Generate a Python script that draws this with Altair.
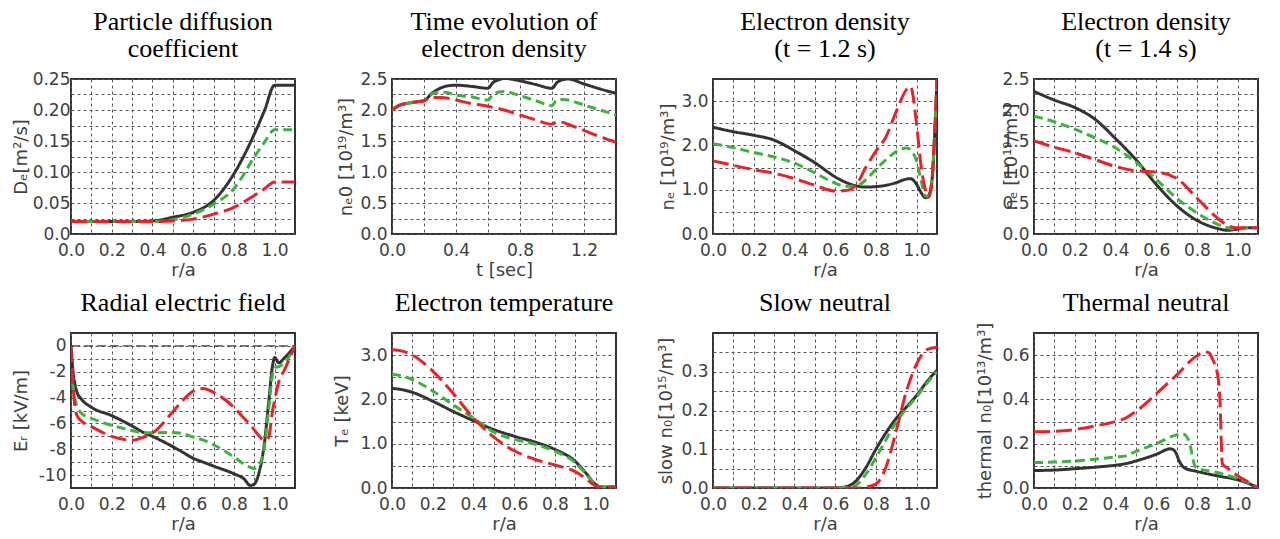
import altair as alt
import pandas as pd

# ---------------- data ----------------
# Panel 1: particle diffusion coefficient
p1_x = [0, 0.1, 0.2, 0.3, 0.4, 0.5, 0.6, 0.7, 0.8, 0.9, 0.95, 1.0, 1.05, 1.1]
p1_black = [0.02, 0.02, 0.02, 0.02, 0.021, 0.027, 0.035, 0.054, 0.097, 0.161, 0.199, 0.24, 0.24, 0.24]
p1_green = [0.02, 0.02, 0.02, 0.02, 0.02, 0.023, 0.032, 0.048, 0.073, 0.124, 0.148, 0.168, 0.168, 0.168]
p1_red = [0.02, 0.02, 0.02, 0.02, 0.02, 0.021, 0.024, 0.032, 0.043, 0.062, 0.073, 0.084, 0.084, 0.084]

# Panel 2: time evolution of electron density
p2_t = [0, 0.05, 0.1, 0.15, 0.2, 0.25, 0.3, 0.35, 0.4, 0.5, 0.6, 0.63, 0.67, 0.7, 0.8, 0.9,
        1.0, 1.03, 1.07, 1.1, 1.2, 1.3, 1.4]
p2_black = [2.0, 2.08, 2.11, 2.13, 2.15, 2.27, 2.35, 2.39, 2.4, 2.38, 2.35, 2.44, 2.49, 2.51, 2.47, 2.41,
            2.35, 2.44, 2.49, 2.5, 2.42, 2.34, 2.27]
p2_green = [2.0, 2.08, 2.11, 2.13, 2.15, 2.26, 2.29, 2.28, 2.24, 2.21, 2.16, 2.25, 2.29, 2.3, 2.23, 2.15,
            2.07, 2.16, 2.17, 2.16, 2.08, 2.0, 1.92]
p2_red = [2.0, 2.08, 2.11, 2.13, 2.15, 2.2, 2.2, 2.19, 2.16, 2.1, 2.06, 2.04, 2.02, 2.0, 1.92, 1.84,
          1.77, 1.81, 1.8, 1.77, 1.67, 1.57, 1.48]

# Panel 3: electron density t = 1.2 s
p3_x = [0, 0.1, 0.2, 0.3, 0.4, 0.5, 0.6, 0.65, 0.7, 0.75, 0.8, 0.85, 0.9, 0.95, 0.97, 1.0,
        1.02, 1.045, 1.06, 1.075, 1.09, 1.1]
p3_black = [2.41, 2.31, 2.23, 2.12, 1.88, 1.61, 1.29, 1.17, 1.09, 1.06, 1.07, 1.1, 1.16, 1.24, 1.25, 1.12,
            0.95, 0.82, 0.88, 1.2, 2.4, 3.5]
p3_green = [2.04, 1.95, 1.84, 1.74, 1.6, 1.38, 1.15, 1.08, 1.08, 1.22, 1.46, 1.68, 1.86, 1.94, 1.9, 1.64,
            1.25, 0.85, 0.85, 1.2, 2.4, 3.5]
p3_red = [1.65, 1.55, 1.45, 1.37, 1.25, 1.1, 0.97, 0.98, 1.09, 1.5, 1.87, 2.2, 2.77, 3.26, 3.33, 2.47,
          1.6, 0.97, 0.83, 1.2, 2.4, 3.5]

# Panel 4: electron density t = 1.4 s
p4_x = [0, 0.1, 0.2, 0.3, 0.4, 0.5, 0.6, 0.7, 0.8, 0.9, 0.95, 1.0, 1.05, 1.1]
p4_black = [2.3, 2.16, 2.04, 1.85, 1.54, 1.2, 0.8, 0.46, 0.22, 0.09, 0.06, 0.08, 0.1, 0.1]
p4_green = [1.9, 1.81, 1.69, 1.55, 1.39, 1.16, 0.88, 0.58, 0.34, 0.16, 0.1, 0.08, 0.1, 0.1]
p4_red = [1.5, 1.4, 1.31, 1.2, 1.09, 1.02, 1.0, 0.9, 0.58, 0.26, 0.14, 0.1, 0.1, 0.1]

# Panel 5: radial electric field
p5_x = [0, 0.01, 0.02, 0.03, 0.05, 0.1, 0.2, 0.3, 0.35, 0.4, 0.5, 0.55, 0.6, 0.65, 0.7, 0.8, 0.85,
        0.88, 0.9, 0.92, 0.95, 0.97, 0.99, 1.0, 1.02, 1.05, 1.1]
p5_black = [0, -2.0, -3.0, -3.6, -4.1, -4.75, -5.4, -6.2, -6.65, -7.0, -7.8, -8.25, -8.7, -9.0, -9.3, -9.9,
            -10.3, -10.8, -10.7, -10.0, -7.5, -4.5, -1.5, -0.9, -1.3, -0.9, 0]
p5_green = [-1.8, -3.2, -4.2, -4.7, -5.2, -5.6, -6.15, -6.55, -6.72, -6.72, -6.7, -6.8, -7.05, -7.3, -7.65,
            -8.6, -9.15, -9.4, -9.5, -9.3, -7.8, -5.0, -2.2, -1.7, -1.6, -1.3, 0]
p5_red = [0, -3.0, -4.8, -5.4, -5.8, -6.25, -7.0, -7.3, -7.1, -6.75, -5.1, -4.2, -3.5, -3.3, -3.6, -4.75,
          -5.6, -6.1, -6.5, -6.9, -7.3, -7.1, -5.0, -4.2, -2.8, -1.8, 0]

# Panel 6: electron temperature
p6_x = [0, 0.05, 0.1, 0.2, 0.3, 0.4, 0.5, 0.6, 0.7, 0.8, 0.9, 0.95, 1.0, 1.03, 1.1]
p6_black = [2.25, 2.22, 2.16, 1.96, 1.73, 1.52, 1.32, 1.17, 1.04, 0.87, 0.6, 0.35, 0.08, 0.02, 0.02]
p6_green = [2.57, 2.53, 2.45, 2.19, 1.88, 1.58, 1.26, 1.1, 0.99, 0.83, 0.57, 0.33, 0.08, 0.02, 0.02]
p6_red = [3.12, 3.09, 3.0, 2.64, 2.14, 1.58, 1.15, 0.84, 0.65, 0.52, 0.37, 0.22, 0.05, 0.02, 0.02]

# Panel 7: slow neutral
p7_x = [0, 0.1, 0.2, 0.3, 0.4, 0.5, 0.6, 0.65, 0.7, 0.75, 0.8, 0.85, 0.9, 0.95, 1.0, 1.05, 1.1]
p7_black = [0, 0, 0, 0, 0, 0, 0, 0.003, 0.017, 0.052, 0.1, 0.143, 0.18, 0.209, 0.239, 0.274, 0.304]
p7_green = [0, 0, 0, 0, 0, 0, 0, 0.001, 0.007, 0.035, 0.078, 0.125, 0.17, 0.205, 0.235, 0.27, 0.3]
p7_red = [0, 0, 0, 0, 0, 0, 0, 0, 0, 0.002, 0.01, 0.055, 0.148, 0.25, 0.32, 0.357, 0.363]

# Panel 8: thermal neutral
p8_black_x = [0, 0.1, 0.2, 0.3, 0.4, 0.45, 0.5, 0.6, 0.67, 0.69, 0.72, 0.74, 0.8, 0.9, 1.0, 1.05, 1.1]
p8_black = [0.079, 0.081, 0.087, 0.094, 0.103, 0.11, 0.122, 0.152, 0.177, 0.168, 0.11, 0.09, 0.075, 0.055,
            0.037, 0.022, 0.0]
p8_green_x = [0, 0.1, 0.2, 0.3, 0.4, 0.45, 0.5, 0.6, 0.7, 0.73, 0.76, 0.79, 0.8, 0.9, 1.0, 1.05, 1.1]
p8_green = [0.115, 0.117, 0.122, 0.13, 0.14, 0.145, 0.165, 0.2, 0.24, 0.245, 0.215, 0.1, 0.09, 0.07, 0.042,
            0.025, 0.0]
p8_red_x = [0, 0.1, 0.2, 0.3, 0.4, 0.45, 0.5, 0.6, 0.7, 0.8, 0.84, 0.86, 0.88, 0.9, 0.912, 0.925, 0.95,
            1.0, 1.05, 1.1]
p8_red = [0.254, 0.256, 0.264, 0.28, 0.3, 0.316, 0.345, 0.425, 0.51, 0.597, 0.615, 0.61, 0.575, 0.52, 0.42,
          0.11, 0.09, 0.055, 0.028, 0.0]

# ---------------- tick / grid definitions ----------------
r_grid = [0.0, 0.1, 0.2, 0.3, 0.4, 0.5, 0.6, 0.7, 0.8, 0.9, 1.0]
r_labels = ["0.0", "", "0.2", "", "0.4", "", "0.6", "", "0.8", "", "1.0"]
t_grid = [0.0, 0.2, 0.4, 0.6, 0.8, 1.0, 1.2]
t_labels = ["0.0", "", "0.4", "", "0.8", "", "1.2"]
p1_ygrid = [0.0, 0.025, 0.05, 0.075, 0.1, 0.125, 0.15, 0.175, 0.2, 0.225, 0.25]
p1_ylabels = ["0.0", "", "0.05", "", "0.10", "", "0.15", "", "0.20", "", "0.25"]
n25_grid = [0.0, 0.25, 0.5, 0.75, 1.0, 1.25, 1.5, 1.75, 2.0, 2.25, 2.5]
n25_labels = ["0.0", "", "0.5", "", "1.0", "", "1.5", "", "2.0", "", "2.5"]
n35_grid = [0.0, 0.5, 1.0, 1.5, 2.0, 2.5, 3.0]
n35_labels = ["0.0", "", "1.0", "", "2.0", "", "3.0"]
er_grid = [-10, -9, -8, -7, -6, -5, -4, -3, -2, -1, 0]
er_labels = ["-10", "", "-8", "", "-6", "", "-4", "", "-2", "", "0"]
sn_grid = [0.0, 0.05, 0.1, 0.15, 0.2, 0.25, 0.3, 0.35]
sn_labels = ["0.0", "", "0.1", "", "0.2", "", "0.3", ""]
tn_grid = [0.0, 0.1, 0.2, 0.3, 0.4, 0.5, 0.6]
tn_labels = ["0.0", "", "0.2", "", "0.4", "", "0.6"]

BLACK = "#333333"
GREEN = "#3cb43c"
RED = "#ea2128"
LABEL_COLOR = "#404040"
SANS = "DejaVu Sans"
SERIF = "Liberation Serif"
W, H = 224, 155
TITLE_SIZE = 26
TITLE_LH = 27
TITLE_GAP = 22


def label_expr(vals, labels):
    expr = "''"
    for v, lab in reversed(list(zip(vals, labels))):
        expr = f"abs(datum.value - ({v})) < 1e-6 ? '{lab}' : ({expr})"
    return expr


def axis(vals, labels, title, **kw):
    return alt.Axis(
        values=vals, labelExpr=label_expr(vals, labels), title=title,
        grid=True, gridDash=[3, 3], gridColor="#555555", gridWidth=1, gridOpacity=1,
        ticks=False, domain=False, labelFont=SANS, labelFontSize=17, labelColor=LABEL_COLOR,
        labelFlush=False, labelOverlap=False, titleFont=SANS, titleFontSize=18,
        titleFontWeight="normal", titleColor=LABEL_COLOR, **kw)


def panel(title, series, xdom, ydom, xvals, xlabs, xtitle, yvals, ylabs, ytitle, ytitle_x,
          ylabpad=5, zero=False):
    layers = []
    xax = axis(xvals, xlabs, xtitle, labelPadding=8, titlePadding=3)
    yax = axis(yvals, ylabs, ytitle, labelPadding=ylabpad, titleX=ytitle_x, titleY=H / 2,
               titleAngle=270, titleAlign="center", titleBaseline="middle")
    xs = alt.Scale(domain=xdom, nice=False, zero=False)
    ysc = alt.Scale(domain=ydom, nice=False, zero=False)
    if zero:
        layers.append(alt.Chart(pd.DataFrame({"x": [xdom[0], xdom[1]], "y": [0, 0]})).mark_line(
            color="#444444", strokeDash=[9, 4], strokeWidth=1.2).encode(
            x=alt.X("x:Q", scale=xs, axis=xax), y=alt.Y("y:Q", scale=ysc, axis=yax)))
    styles = [(BLACK, [1, 0]), (GREEN, [9, 5]), (RED, [16, 6])]
    for (xv, yv), (col, dash) in zip(series, styles):
        df = pd.DataFrame({"x": xv, "y": yv})
        layers.append(alt.Chart(df).mark_line(
            color=col, strokeDash=dash, strokeWidth=3, interpolate="monotone", clip=True,
            strokeCap="butt").encode(
            x=alt.X("x:Q", scale=xs, axis=xax), y=alt.Y("y:Q", scale=ysc, axis=yax)))
    lines = title if isinstance(title, list) else [title]
    first_baseline = -TITLE_GAP - TITLE_LH * (len(lines) - 1)
    layers.append(alt.Chart(pd.DataFrame({"k": [0]})).mark_text(
        text=lines, font=SERIF, fontSize=TITLE_SIZE, color="black", align="center",
        baseline="alphabetic", lineHeight=TITLE_LH).encode(
        x=alt.value(W / 2), y=alt.value(first_baseline)))
    return alt.layer(*layers).properties(width=W, height=H)


panels = [
    panel(["Particle diffusion", "coefficient"],
          [(p1_x, p1_black), (p1_x, p1_green), (p1_x, p1_red)],
          [0, 1.1], [0, 0.25], r_grid, r_labels, "r/a", p1_ygrid, p1_ylabels,
          "Dₑ[m²/s]", -50, ylabpad=1),
    panel(["Time evolution of", "electron density"],
          [(p2_t, p2_black), (p2_t, p2_green), (p2_t, p2_red)],
          [0, 1.4], [0, 2.5], t_grid, t_labels, "t [sec]", n25_grid, n25_labels,
          "nₑ0 [10¹⁹/m³]", -46),
    panel(["Electron density", "(t = 1.2 s)"],
          [(p3_x, p3_black), (p3_x, p3_green), (p3_x, p3_red)],
          [0, 1.1], [0, 3.5], r_grid, r_labels, "r/a", n35_grid, n35_labels,
          "nₑ [10¹⁹/m³]", -45),
    panel(["Electron density", "(t = 1.4 s)"],
          [(p4_x, p4_black), (p4_x, p4_green), (p4_x, p4_red)],
          [0, 1.1], [0, 2.5], r_grid, r_labels, "r/a", n25_grid, n25_labels,
          "nₑ [10¹⁹/m³]", -23),
    panel("Radial electric field",
          [(p5_x, p5_black), (p5_x, p5_green), (p5_x, p5_red)],
          [0, 1.1], [-11, 1], r_grid, r_labels, "r/a", er_grid, er_labels,
          "Eᵣ [kV/m]", -50, zero=True),
    panel("Electron temperature",
          [(p6_x, p6_black), (p6_x, p6_green), (p6_x, p6_red)],
          [0, 1.1], [0, 3.5], r_grid, r_labels, "r/a", n35_grid, n35_labels,
          "Tₑ [keV]", -50),
    panel("Slow neutral",
          [(p7_x, p7_black), (p7_x, p7_green), (p7_x, p7_red)],
          [0, 1.1], [0, 0.4], r_grid, r_labels, "r/a", sn_grid, sn_labels,
          "slow n₀[10¹⁵/m³]", -47),
    panel("Thermal neutral",
          [(p8_black_x, p8_black), (p8_green_x, p8_green), (p8_red_x, p8_red)],
          [0, 1.1], [0, 0.7], r_grid, r_labels, "r/a", tn_grid, tn_labels,
          "thermal n₀[10¹³/m³]", -49),
]

chart = alt.concat(*panels, columns=4, spacing={"row": 99, "column": 97}, bounds="flush").properties(
    padding={"left": 3, "top": 0, "right": 5, "bottom": 2}
).configure_view(stroke="#333333", strokeWidth=2)

chart.save("out.html", embed_options={"renderer": "svg", "actions": False})
